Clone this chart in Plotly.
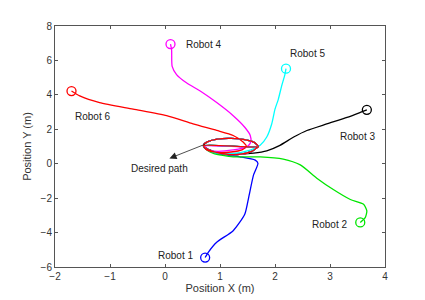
import plotly.graph_objects as go

# Robot trajectories, data coordinates in metres
loop_x = [1.70, 1.62, 1.45, 1.20, 0.95, 0.78, 0.70, 0.74, 0.88, 1.10, 1.35, 1.58, 1.70]
loop_y = [1.00, 1.24, 1.40, 1.47, 1.43, 1.28, 1.08, 0.88, 0.70, 0.56, 0.54, 0.72, 1.00]

r1_x = [0.73, 0.79, 0.94, 1.24, 1.45, 1.52, 1.61, 1.69, 1.64, 1.36, 0.94, 0.73, 0.70]
r1_y = [-5.45, -5.13, -4.56, -3.89, -2.94, -1.98, -0.65, 0.02, 0.21, 0.40, 0.60, 0.88, 1.05]
r2_x = [3.55, 3.64, 3.67, 3.61, 3.37, 3.06, 2.76, 2.46, 2.15, 1.73, 1.24, 0.88, 0.73, 0.70]
r2_y = [-3.41, -3.13, -2.74, -2.36, -2.08, -1.50, -0.84, -0.07, 0.27, 0.40, 0.40, 0.60, 0.88, 1.05]
r3_x = [3.67, 3.55, 3.31, 2.94, 2.58, 2.34, 2.09, 1.85, 1.61, 1.30, 1.00, 0.78, 0.70]
r3_y = [3.13, 2.98, 2.69, 2.31, 1.93, 1.55, 1.07, 0.75, 0.62, 0.56, 0.62, 0.85, 1.05]
r4_x = [0.10, 0.12, 0.13, 0.21, 0.39, 0.64, 0.94, 1.24, 1.45, 1.55, 1.56, 1.49, 1.24, 0.95, 0.78, 0.72]
r4_y = [6.95, 6.61, 5.65, 5.18, 4.70, 4.22, 3.55, 2.79, 2.12, 1.64, 1.26, 0.98, 0.80, 0.72, 0.82, 1.02]
r5_x = [2.20, 2.18, 2.12, 2.06, 2.00, 1.94, 1.85, 1.73, 1.55, 1.24, 0.95, 0.76, 0.70]
r5_y = [5.52, 5.18, 4.51, 3.74, 3.17, 2.31, 1.55, 1.07, 0.79, 0.60, 0.62, 0.82, 1.05]
r6_x = [-1.70, -1.55, -1.19, -0.58, 0.03, 0.51, 0.94, 1.24, 1.42, 1.48, 1.40, 1.20, 0.95, 0.76, 0.70]
r6_y = [4.22, 3.94, 3.55, 3.17, 2.79, 2.31, 1.93, 1.64, 1.26, 1.00, 0.80, 0.68, 0.66, 0.80, 1.05]

robots = [
    ("Robot 1", r1_x, r1_y, "#0000ff", -0.17, -5.36),
    ("Robot 2", r2_x, r2_y, "#00e600", 2.64, -3.51),
    ("Robot 3", r3_x, r3_y, "#000000", 3.14, 1.57),
    ("Robot 4", r4_x, r4_y, "#ff00ff", 0.35, 6.95),
    ("Robot 5", r5_x, r5_y, "#00ffff", 2.23, 6.38),
    ("Robot 6", r6_x, r6_y, "#ff0000", -1.67, 2.73),
]

x_ticks = [-2, -1, 0, 1, 2, 3, 4]
y_ticks = [-6, -4, -2, 0, 2, 4, 6, 8]

fig = go.Figure()
for name, xs, ys, col, lx, ly in robots:
    fig.add_trace(go.Scatter(x=xs + loop_x, y=ys + loop_y, mode="lines",
                             line=dict(color=col, width=1.3, shape="spline", smoothing=0.6),
                             showlegend=False, hoverinfo="skip"))
    fig.add_trace(go.Scatter(x=[xs[0]], y=[ys[0]], mode="markers",
                             marker=dict(symbol="circle-open", size=9, color=col,
                                         line=dict(width=1.3, color=col)),
                             showlegend=False, hoverinfo="skip"))
    fig.add_annotation(x=lx, y=ly, text=name, showarrow=False, xanchor="left",
                       yanchor="middle", font=dict(size=10, color="#222"))

# desired path arrow
fig.add_annotation(x=0.08, y=0.31, ax=0.76, ay=1.17, xref="x", yref="y", axref="x", ayref="y",
                   showarrow=True, arrowhead=2, arrowsize=1.8, arrowwidth=0.8,
                   arrowcolor="#222", text="")
fig.add_annotation(x=-0.10, y=-0.26, text="Desired path", showarrow=False,
                   font=dict(size=10, color="#222"))

axis_common = dict(showgrid=False, zeroline=False, ticks="inside", ticklen=3,
                   mirror="allticks", showline=True, linecolor="#555", linewidth=1,
                   tickcolor="#555", tickfont=dict(size=10, color="#333"))
fig.update_xaxes(range=[-2, 4], tickvals=x_ticks, title=dict(text="Position X (m)",
                 font=dict(size=11, color="#333"), standoff=2), **axis_common)
fig.update_yaxes(range=[-6, 8], tickvals=y_ticks, title=dict(text="Position Y (m)",
                 font=dict(size=11, color="#333"), standoff=6), **axis_common)

fig.update_layout(width=425, height=300, margin=dict(l=47, r=48, t=14, b=41),
                  plot_bgcolor="white", paper_bgcolor="white",
                  font=dict(family="Liberation Sans, Arial, sans-serif"))
fig.write_html("out.html")
